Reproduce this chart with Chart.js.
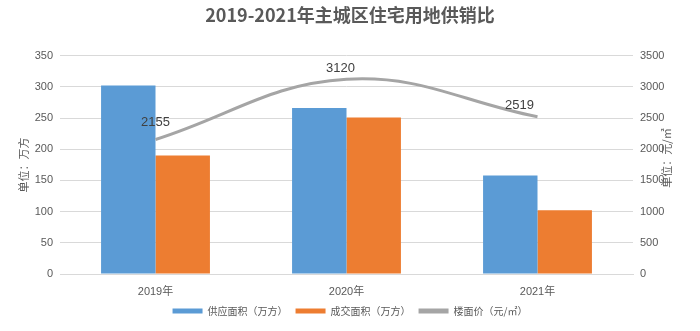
<!DOCTYPE html>
<html>
<head>
<meta charset="utf-8">
<script src="https://cdn.jsdelivr.net/npm/chart.js@4"></script>
<style>
html, body { margin: 0; padding: 0; background: #fff; }
</style>
</head>
<body>
<canvas id="myChart" width="700" height="331"></canvas>
<script>
// data
const years = ['2019年', '2020年', '2021年'];
const supplyArea = [302, 266, 158];   // 供应面积（万方）
const dealArea = [190, 251, 102];     // 成交面积（万方）
const floorPrice = [2155, 3120, 2519]; // 楼面价（元/㎡）
const leftAxis = { max: 350, step: 50 };
const rightAxis = { max: 3500, step: 500 };

const FONT = '"Liberation Sans", "Noto Sans CJK SC", sans-serif';
const TXT = '#595959';

// value labels over the line + the two rotated axis titles
const extraText = {
    id: 'extraText',
    afterDatasetsDraw(chart) {
        const ctx = chart.ctx;
        const meta = chart.getDatasetMeta(2);
        const dx = [0, -6, -18];
        const dy = [17, 11, 11];
        ctx.save();
        ctx.font = '13px ' + FONT;
        ctx.fillStyle = '#404040';
        ctx.textAlign = 'center';
        ctx.textBaseline = 'middle';
        meta.data.forEach((pt, i) => {
            ctx.fillText(String(floorPrice[i]), pt.x + dx[i], pt.y - dy[i]);
        });

        ctx.font = '11px "Noto Sans CJK SC", sans-serif';
        ctx.fillStyle = TXT;
        ctx.translate(24, 165);
        ctx.rotate(-Math.PI / 2);
        ctx.fillText('单位：万方', 0, 0);
        ctx.restore();

        ctx.save();
        ctx.font = '11px "Noto Sans CJK SC", sans-serif';
        ctx.fillStyle = TXT;
        ctx.textAlign = 'center';
        ctx.textBaseline = 'middle';
        ctx.translate(667, 158);
        ctx.rotate(-Math.PI / 2);
        ctx.fillText('单位：元/㎡', 0, 0);
        ctx.restore();
    }
};

var ctx = document.getElementById('myChart').getContext('2d');
var myChart = new Chart(ctx, {
    type: 'bar',
    data: {
        labels: years,
        datasets: [{
            label: '供应面积（万方）',
            data: supplyArea,
            backgroundColor: '#5B9BD5',
            yAxisID: 'y',
            order: 2
        }, {
            label: '成交面积（万方）',
            data: dealArea,
            backgroundColor: '#ED7D31',
            yAxisID: 'y',
            order: 2
        }, {
            type: 'line',
            label: '楼面价（元/㎡）',
            data: floorPrice,
            borderColor: '#A5A5A5',
            backgroundColor: '#A5A5A5',
            borderWidth: 3,
            pointRadius: 0,
            tension: 0.4,
            yAxisID: 'y1',
            order: 1
        }]
    },
    options: {
        responsive: false,
        animation: false,
        datasets: {
            bar: { categoryPercentage: 0.57, barPercentage: 1.0 }
        },
        layout: { padding: { left: 0, right: 0, top: 0, bottom: 5 } },
        plugins: {
            title: {
                display: true,
                text: '2019-2021年主城区住宅用地供销比',
                color: TXT,
                font: { size: 18, weight: 'bold', family: '"Noto Sans CJK SC", sans-serif' },
                padding: { top: 4, bottom: 30 }
            },
            legend: {
                position: 'bottom',
                labels: {
                    color: TXT,
                    font: { size: 10, family: '"Noto Sans CJK SC", sans-serif' },
                    boxWidth: 30,
                    boxHeight: 5,
                    padding: 8,
                    sort: (a, b) => a.datasetIndex - b.datasetIndex,
                    generateLabels(chart) {
                        const items = Chart.defaults.plugins.legend.labels.generateLabels(chart);
                        items.forEach(it => { it.lineWidth = 0; });
                        return items;
                    }
                }
            },
            tooltip: { enabled: false }
        },
        scales: {
            x: {
                grid: { display: false },
                border: { color: '#D9D9D9' },
                afterFit(scale) { scale.height = 24; },
                ticks: { color: TXT, font: { size: 11, family: FONT }, padding: 3 }
            },
            y: {
                position: 'left',
                min: 0,
                max: leftAxis.max,
                afterFit(scale) { scale.width = 60; },
                grid: { color: '#D9D9D9', drawTicks: false },
                border: { display: false },
                ticks: { stepSize: leftAxis.step, color: TXT, font: { size: 11, family: FONT }, padding: 7 }
            },
            y1: {
                position: 'right',
                min: 0,
                max: rightAxis.max,
                afterFit(scale) { scale.width = 67; },
                grid: { display: false, drawTicks: false },
                border: { display: false },
                ticks: {
                    stepSize: rightAxis.step, color: TXT, font: { size: 11, family: FONT }, padding: 7,
                    callback: v => String(v)
                }
            }
        }
    },
    plugins: [extraText]
});
</script>
</body>
</html>
